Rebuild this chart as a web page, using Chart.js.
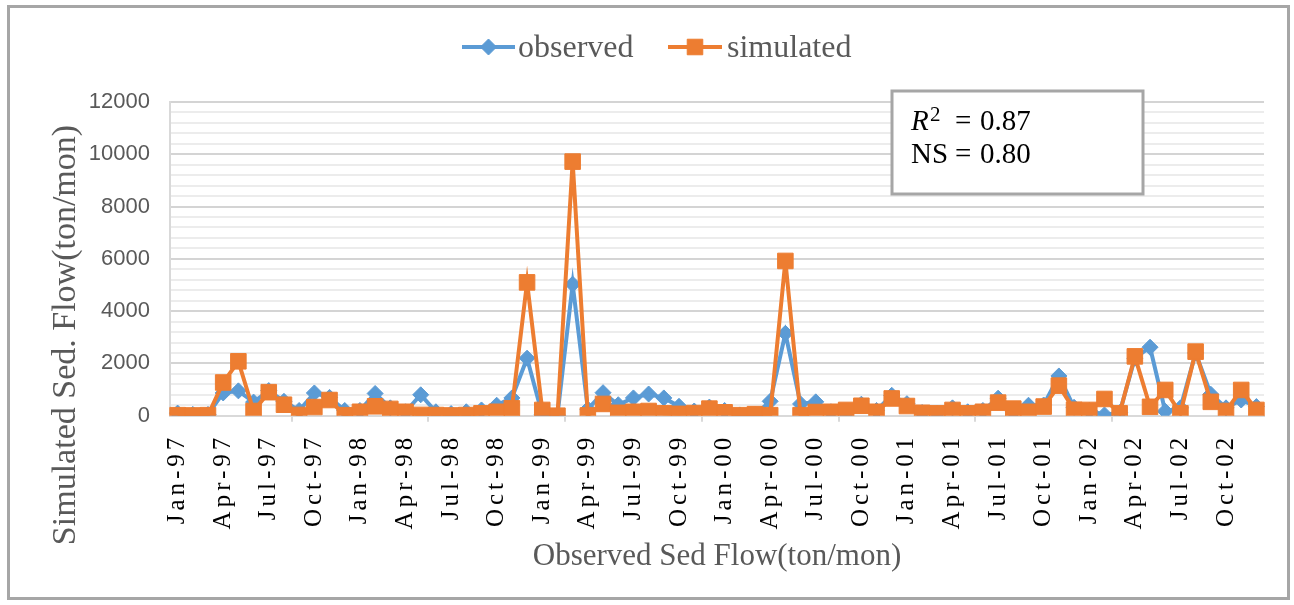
<!DOCTYPE html>
<html>
<head>
<meta charset="utf-8">
<title>Observed vs simulated sediment flow</title>
<script src="https://cdn.jsdelivr.net/npm/chart.js@4.4.1/dist/chart.umd.min.js"></script>
<style>
  html, body { margin: 0; padding: 0; background: #ffffff; }
  #wrap { position: relative; width: 1294px; height: 605px; }
  canvas { display: block; }
</style>
</head>
<body>
<div id="wrap"><canvas id="chart" width="1294" height="605"></canvas></div>
<script>
// Monthly categories, Jan 1997 - Dec 2002
const months = [
  'Jan-97','Feb-97','Mar-97','Apr-97','May-97','Jun-97','Jul-97','Aug-97','Sep-97','Oct-97','Nov-97','Dec-97',
  'Jan-98','Feb-98','Mar-98','Apr-98','May-98','Jun-98','Jul-98','Aug-98','Sep-98','Oct-98','Nov-98','Dec-98',
  'Jan-99','Feb-99','Mar-99','Apr-99','May-99','Jun-99','Jul-99','Aug-99','Sep-99','Oct-99','Nov-99','Dec-99',
  'Jan-00','Feb-00','Mar-00','Apr-00','May-00','Jun-00','Jul-00','Aug-00','Sep-00','Oct-00','Nov-00','Dec-00',
  'Jan-01','Feb-01','Mar-01','Apr-01','May-01','Jun-01','Jul-01','Aug-01','Sep-01','Oct-01','Nov-01','Dec-01',
  'Jan-02','Feb-02','Mar-02','Apr-02','May-02','Jun-02','Jul-02','Aug-02','Sep-02','Oct-02','Nov-02','Dec-02'
];

// Sediment flow (ton/month)
const observed = [
  100, 50, 50, 870, 950, 520, 960, 550, 200, 870, 700, 200,
  200, 850, 300, 150, 800, 150, 80, 150, 220, 400, 680, 2200,
  40, 20, 5030, 250, 880, 420, 680, 830, 680, 360, 180, 330,
  200, 30, 40, 550, 3150, 450, 530, 150, 90, 440, 200, 780,
  460, 120, 100, 300, 150, 200, 670, 150, 400, 410, 1520, 320,
  200, 30, 120, 2200, 2620, 170, 300, 2400, 820, 300, 600, 350
];
const simulated = [
  20, 10, 20, 1270, 2080, 180, 900, 420, 30, 330, 600, 20,
  150, 360, 260, 150, 30, 25, 10, 25, 90, 150, 280, 5100,
  220, 0, 9720, 10, 450, 110, 150, 180, 90, 70, 100, 270,
  130, 20, 60, 20, 5920, 20, 140, 150, 220, 380, 150, 660,
  370, 110, 90, 220, 90, 150, 500, 270, 150, 350, 1150, 230,
  220, 640, 90, 2270, 340, 985, 90, 2450, 530, 180, 985, 220
];

// Axis settings
const yMin = 0;
const yMax = 12000;
const yMinorStep = 400;
const yMajorStep = 2000;
const xLabelEvery = 3;

// Legend entries and fit statistics
const seriesNames = ['observed', 'simulated'];
const seriesColors = ['#5b9bd5', '#ed7d31'];
const rSquared = '0.87';
const nashSutcliffe = '0.80';

const SERIF = "'Liberation Serif', 'Times New Roman', serif";
const SANS = "'Liberation Sans', Arial, sans-serif";
const TEXT_GREY = '#595959';

const pointStyles = ['rectRot', 'rect'];
const pointRadii = [8, 11];

// Legend, statistics box, rotated y title and outer frame
const decor = {
  id: 'decor',
  beforeDraw(chart) {
    const c = chart.ctx;
    c.save();
    c.fillStyle = '#ffffff';
    c.fillRect(0, 0, chart.width, chart.height);
    c.restore();
  },
  afterDatasetsDraw(chart) {
    const c = chart.ctx;
    c.save();

    // legend: short line with marker, then series name
    const legendItems = [
      { x0: 462, x1: 515, tx: 518 },
      { x0: 668, x1: 722, tx: 727 }
    ];
    const ly = 47;
    legendItems.forEach((it, i) => {
      c.strokeStyle = seriesColors[i];
      c.fillStyle = seriesColors[i];
      c.lineWidth = 4;
      c.beginPath();
      c.moveTo(it.x0, ly);
      c.lineTo(it.x1, ly);
      c.stroke();
      c.lineWidth = 1;
      Chart.helpers.drawPoint(c, {
        pointStyle: pointStyles[i], radius: pointRadii[i], rotation: 0, borderWidth: 1
      }, (it.x0 + it.x1) / 2, ly);
      c.fillStyle = TEXT_GREY;
      c.font = '32px ' + SERIF;
      c.textAlign = 'left';
      c.textBaseline = 'alphabetic';
      c.fillText(seriesNames[i], it.tx, 57);
    });

    // statistics box
    c.fillStyle = '#ffffff';
    c.fillRect(892, 91, 251, 103);
    c.strokeStyle = '#a6a6a6';
    c.lineWidth = 3;
    c.strokeRect(892, 91, 251, 103);
    c.fillStyle = '#000000';
    c.textAlign = 'left';
    c.textBaseline = 'alphabetic';
    c.font = 'italic 29px ' + SERIF;
    c.fillText('R', 911, 130);
    c.font = '21px ' + SERIF;
    c.fillText('2', 930, 121);
    c.font = '29px ' + SERIF;
    c.fillText('=', 955, 130);
    c.fillText(rSquared, 980, 130);
    c.fillText('NS', 911, 163);
    c.fillText('=', 955, 163);
    c.fillText(nashSutcliffe, 980, 163);

    // rotated y-axis title
    c.save();
    c.translate(66, 335);
    c.rotate(-Math.PI / 2);
    c.fillStyle = TEXT_GREY;
    c.font = '34px ' + SERIF;
    c.textAlign = 'center';
    c.textBaseline = 'middle';
    c.fillText('Simulated Sed. Flow(ton/mon)', 0, 0);
    c.restore();

    // outer chart frame
    c.strokeStyle = '#a6a6a6';
    c.lineWidth = 3;
    c.strokeRect(8.5, 6.5, 1280, 592);

    c.restore();
    // the spaced-out month labels are drawn next (x tick layer, z = 1)
    c.letterSpacing = '4px';
  },
  afterDraw(chart) {
    chart.ctx.letterSpacing = '0px';
  }
};

new Chart(document.getElementById('chart'), {
  type: 'line',
  data: {
    labels: months,
    datasets: [
      {
        label: seriesNames[0],
        data: observed,
        order: 1,
        borderColor: seriesColors[0],
        backgroundColor: seriesColors[0],
        borderWidth: 4,
        tension: 0,
        pointStyle: pointStyles[0],
        pointRadius: pointRadii[0],
        pointBorderWidth: 1,
        pointBackgroundColor: seriesColors[0],
        pointBorderColor: seriesColors[0]
      },
      {
        label: seriesNames[1],
        data: simulated,
        order: 0,
        borderColor: seriesColors[1],
        backgroundColor: seriesColors[1],
        borderWidth: 4,
        tension: 0,
        pointStyle: pointStyles[1],
        pointRadius: pointRadii[1],
        pointBorderWidth: 1,
        pointBackgroundColor: seriesColors[1],
        pointBorderColor: seriesColors[1]
      }
    ]
  },
  options: {
    responsive: false,
    devicePixelRatio: 1,
    animation: false,
    events: [],
    layout: { padding: { top: 102, right: 30, bottom: 0, left: 0 } },
    plugins: {
      legend: { display: false },
      title: { display: false },
      tooltip: { enabled: false }
    },
    scales: {
      x: {
        type: 'category',
        offset: true,
        afterFit(scale) { scale.height = 189.3; },
        grid: {
          offset: true,
          drawOnChartArea: false,
          drawTicks: true,
          tickLength: 6,
          lineWidth: 2,
          color: (ctx) => (ctx.index % xLabelEvery === 0 ? '#d9d9d9' : 'rgba(0,0,0,0)')
        },
        border: { display: true, color: '#d9d9d9', width: 2 },
        ticks: {
          z: 1,
          autoSkip: false,
          minRotation: 90,
          maxRotation: 90,
          padding: 12,
          color: '#000000',
          font: { family: SERIF, size: 25 },
          callback(value, index) {
            return index % xLabelEvery === 0 ? this.getLabelForValue(value) : null;
          }
        },
        title: {
          display: true,
          text: 'Observed Sed Flow(ton/mon)',
          color: TEXT_GREY,
          font: { family: SERIF, size: 31 },
          padding: { top: 0, bottom: 30 }
        }
      },
      y: {
        type: 'linear',
        min: yMin,
        max: yMax,
        afterFit(scale) { scale.width = 170; },
        grid: {
          drawTicks: false,
          lineWidth: 2,
          color: (ctx) => (ctx.tick && ctx.tick.value % yMajorStep === 0 ? '#d4d4d4' : '#ececec')
        },
        border: { display: true, color: '#d9d9d9', width: 2 },
        ticks: {
          stepSize: yMinorStep,
          autoSkip: false,
          padding: 20,
          color: TEXT_GREY,
          font: { family: SANS, size: 22 },
          callback(value) {
            // empty text keeps the minor grid line while hiding its label
            return value % yMajorStep === 0 ? String(value) : '';
          }
        }
      }
    }
  },
  plugins: [decor]
});
</script>
</body>
</html>
